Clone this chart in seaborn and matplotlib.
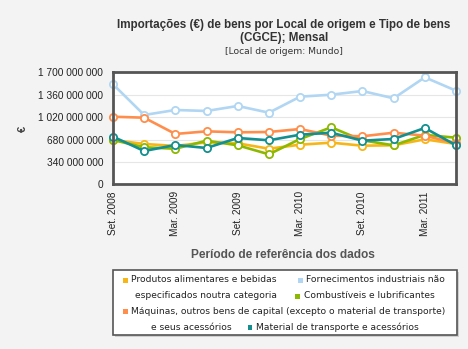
import numpy as np
import pandas as pd
import matplotlib
matplotlib.use("Agg")
import matplotlib.pyplot as plt
import seaborn as sns
from matplotlib.patches import Rectangle

periods = ["Set. 2008", "Dez. 2008", "Mar. 2009", "Jun. 2009", "Set. 2009", "Dez. 2009",
           "Mar. 2010", "Jun. 2010", "Set. 2010", "Dez. 2010", "Mar. 2011", "Jun. 2011"]
tick_labels = ["Set. 2008", "Mar. 2009", "Set. 2009", "Mar. 2010", "Set. 2010", "Mar. 2011"]
ytick_values = [0, 340e6, 680e6, 1020e6, 1360e6, 1700e6]
ytick_labels = ["0", "340 000 000", "680 000 000", "1 020 000 000", "1 360 000 000", "1 700 000 000"]

series_names = ["Produtos alimentares e bebidas",
                "Fornecimentos industriais não especificados noutra categoria",
                "Combustíveis e lubrificantes",
                "Máquinas, outros bens de capital (excepto o material de transporte) e seus acessórios",
                "Material de transporte e acessórios"]
produtos = [672e6, 612e6, 582e6, 637e6, 622e6, 540e6, 601e6, 632e6, 586e6, 592e6, 683e6, 612e6]
fornecimentos = [1518e6, 1052e6, 1128e6, 1113e6, 1189e6, 1087e6, 1330e6, 1360e6, 1416e6, 1305e6, 1624e6, 1421e6]
combustiveis = [672e6, 562e6, 540e6, 662e6, 592e6, 455e6, 688e6, 865e6, 667e6, 592e6, 750e6, 707e6]
maquinas = [1026e6, 1011e6, 764e6, 804e6, 789e6, 794e6, 839e6, 738e6, 729e6, 783e6, 738e6, 622e6]
material = [723e6, 505e6, 597e6, 551e6, 703e6, 668e6, 753e6, 783e6, 662e6, 688e6, 855e6, 592e6]
colors = ["#f7b617", "#b0d6f3", "#8db800", "#ff8e4c", "#138f90"]

values = [produtos, fornecimentos, combustiveis, maquinas, material]
rows = []
for name, vals in zip(series_names, values):
    for i, v in enumerate(vals):
        rows.append({"idx": i, "periodo": periods[i], "valor": v, "serie": name})
df = pd.DataFrame(rows)

sns.set_style("white")
plt.rcParams['font.family'] = ['Liberation Sans', 'DejaVu Sans']

W, H = 468, 349
fig = plt.figure(figsize=(W / 100, H / 100), dpi=100, facecolor="#f3f3f3")
ax = fig.add_axes([113 / W, 1 - 184.3 / H, (456 - 113) / W, (184.3 - 72.3) / H])
ax.set_facecolor("white")

sns.lineplot(data=df, x="idx", y="valor", hue="serie", hue_order=series_names,
             palette=colors, marker="o", markersize=5.2, markerfacecolor="white",
             markeredgewidth=1.3, linewidth=1.9, legend=False, ax=ax)
for line, c in zip(ax.lines, colors):
    line.set_markeredgecolor(c)
    line.set_clip_on(False)

ax.set_xlim(0, 11)
ax.set_ylim(0, 1700e6)
ax.set_yticks(ytick_values)
ax.set_yticklabels(ytick_labels, fontsize=7.3, color="#222222")
ax.set_xticks([periods.index(t) for t in tick_labels])
ax.set_xticklabels(tick_labels, rotation=90, fontsize=7.3, color="#222222")
ax.tick_params(axis="y", length=0, pad=7)
ax.tick_params(axis="x", length=0, pad=5)
ax.grid(axis="y", color="#e6e6e6", linewidth=0.8)
ax.set_axisbelow(True)
for s in ax.spines.values():
    s.set_color("#555555")
    s.set_linewidth(2)
ax.set_xlabel("")
ax.set_ylabel("")

fig.text(23 / W, 1 - 129 / H, "€", rotation=90, fontsize=8, color="#444444",
         ha="center", va="center", fontweight="bold")
fig.text(284 / W, 1 - 25 / H, "Importações (€) de bens por Local de origem e Tipo de bens",
         fontsize=8.4, fontweight="bold", color="#333333", ha="center", va="center")
fig.text(284 / W, 1 - 37.5 / H, "(CGCE); Mensal",
         fontsize=8.4, fontweight="bold", color="#333333", ha="center", va="center")
fig.text(284 / W, 1 - 52 / H, "[Local de origem: Mundo]", fontsize=6.6, color="#333333",
         ha="center", va="center", family="DejaVu Sans")
fig.text(283 / W, 1 - 255 / H, "Período de referência dos dados", fontsize=8.6,
         fontweight="bold", color="#555555", ha="center", va="center")

# legend box
box = Rectangle((113 / W, 1 - 335 / H), (457 - 113) / W, (335 - 270) / H,
                transform=fig.transFigure, facecolor="white", edgecolor="#555555",
                linewidth=1.2, zorder=1)
shadow = Rectangle((115 / W, 1 - 337 / H), (457 - 113) / W, (335 - 270) / H,
                   transform=fig.transFigure, facecolor="#cfcfcf", edgecolor="none", zorder=0)
fig.patches.extend([shadow, box])

lfs = 6.6
lfam = "DejaVu Sans"
def sq(x, y, c):
    fig.patches.append(Rectangle(((x - 2.5) / W, 1 - (y + 2.5) / H), 5 / W, 5 / H,
                                 transform=fig.transFigure, facecolor=c, edgecolor="none", zorder=2))
def tx(x, y, s):
    fig.text(x / W, 1 - y / H, s, fontsize=lfs, family=lfam, color="#222222",
             ha="left", va="center", zorder=3)

sq(125, 280, colors[0]); tx(131, 280, "Produtos alimentares e bebidas")
sq(300, 280, colors[1]); tx(306, 280, "Fornecimentos industriais não")
tx(135, 296, "especificados noutra categoria")
sq(297, 296, colors[2]); tx(304, 296, "Combustíveis e lubrificantes")
sq(125, 311.7, colors[3]); tx(131, 311.7, "Máquinas, outros bens de capital (excepto o material de transporte)")
tx(151, 327.3, "e seus acessórios")
sq(250, 327.3, colors[4]); tx(256, 327.3, "Material de transporte e acessórios")

fig.savefig("out.png", dpi=100, facecolor=fig.get_facecolor())
